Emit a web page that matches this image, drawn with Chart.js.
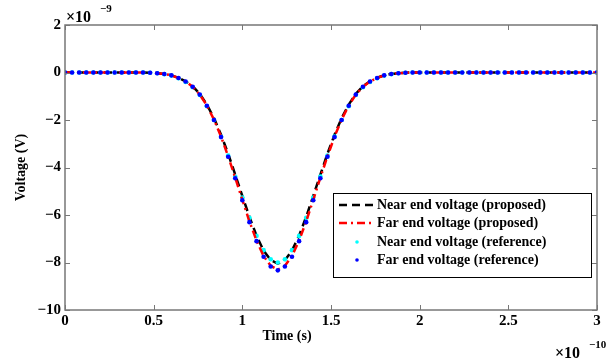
<!DOCTYPE html>
<html>
<head>
<meta charset="utf-8">
<script src="https://cdn.jsdelivr.net/npm/chart.js@4.4.1/dist/chart.umd.min.js"></script>
<style>
html,body{margin:0;padding:0;background:#fff;}
#wrap{width:616px;height:362px;position:relative;}
</style>
</head>
<body>
<div id="wrap"><canvas id="c" width="616" height="362"></canvas></div>
<script>
// Time axis in units of 1e-10 s, voltage in units of 1e-9 V
const timeExp = -10;
const voltExp = -9;
const xTicks = [0, 0.5, 1, 1.5, 2, 2.5, 3];
const yTicks = [2, 0, -2, -4, -6, -8, -10];
const seriesNames = [
  "Near end voltage (proposed)",
  "Far end voltage (proposed)",
  "Near end voltage (reference)",
  "Far end voltage (reference)"
];
const time = [0,0.04,0.08,0.12,0.16,0.20,0.24,0.28,0.32,0.36,0.40,0.44,0.48,0.52,0.56,0.60,0.64,0.68,0.72,0.76,0.80,0.84,0.88,0.92,0.96,1.00,1.04,1.08,1.12,1.16,1.20,1.24,1.28,1.32,1.36,1.40,1.44,1.48,1.52,1.56,1.60,1.64,1.68,1.72,1.76,1.80,1.84,1.88,1.92,1.96,2.00,2.04,2.08,2.12,2.16,2.20,2.24,2.28,2.32,2.36,2.40,2.44,2.48,2.52,2.56,2.60,2.64,2.68,2.72,2.76,2.80,2.84,2.88,2.92,2.96,3.00];
const nearProposed = [0,0,0,0,0,0,0,0,0,0,0,0,-0.01,-0.03,-0.06,-0.12,-0.22,-0.37,-0.58,-0.90,-1.35,-1.92,-2.62,-3.42,-4.30,-5.20,-6.08,-6.87,-7.50,-7.90,-8.05,-7.90,-7.50,-6.87,-6.08,-5.20,-4.30,-3.42,-2.62,-1.92,-1.35,-0.90,-0.58,-0.37,-0.22,-0.12,-0.06,-0.03,-0.01,0,0,0,0,0,0,0,0,0,0,0,0,0,0,0,0,0,0,0,0,0,0,0,0,0,0,0];
const farProposed = [0,0,0,0,0,0,0,0,0,0,0,0,-0.01,-0.03,-0.06,-0.12,-0.23,-0.38,-0.60,-0.93,-1.39,-1.98,-2.70,-3.53,-4.43,-5.36,-6.27,-7.08,-7.73,-8.14,-8.30,-8.14,-7.73,-7.08,-6.27,-5.36,-4.43,-3.53,-2.70,-1.98,-1.39,-0.93,-0.60,-0.38,-0.23,-0.12,-0.06,-0.03,-0.01,0,0,0,0,0,0,0,0,0,0,0,0,0,0,0,0,0,0,0,0,0,0,0,0,0,0,0];
const nearReference = [0,0,0,0,0,0,0,0,0,0,0,0,-0.01,-0.03,-0.07,-0.13,-0.24,-0.40,-0.62,-0.95,-1.42,-2.00,-2.70,-3.50,-4.38,-5.26,-6.12,-6.88,-7.48,-7.86,-8.00,-7.86,-7.48,-6.88,-6.12,-5.26,-4.38,-3.50,-2.70,-2.00,-1.42,-0.95,-0.62,-0.40,-0.24,-0.13,-0.07,-0.03,-0.01,0,0,0,0,0,0,0,0,0,0,0,0,0,0,0,0,0,0,0,0,0,0,0,0,0,0,0];
const farReference = [0,0,0,0,0,0,0,0,0,0,0,0,-0.01,-0.03,-0.06,-0.12,-0.23,-0.38,-0.60,-0.93,-1.40,-2.00,-2.72,-3.55,-4.45,-5.38,-6.30,-7.10,-7.76,-8.17,-8.33,-8.17,-7.76,-7.10,-6.30,-5.38,-4.45,-3.55,-2.72,-2.00,-1.40,-0.93,-0.60,-0.38,-0.23,-0.12,-0.06,-0.03,-0.01,0,0,0,0,0,0,0,0,0,0,0,0,0,0,0,0,0,0,0,0,0,0,0,0,0,0,0];

const pts = arr => time.map((t, i) => ({x: t, y: arr[i]}));
const SERIF = "'Liberation Serif', 'DejaVu Serif', serif";
const fmt = v => String(v).replace('-', '\u2212');

const frame = {
  id: 'frame',
  afterDatasetsDraw(chart) {
    const {ctx, chartArea: a, scales: {x, y}} = chart;
    ctx.save();
    ctx.strokeStyle = '#777';
    ctx.lineWidth = 1.5;
    ctx.strokeRect(a.left, a.top, a.right - a.left, a.bottom - a.top);
    ctx.lineWidth = 1;
    ctx.beginPath();
    xTicks.forEach(v => {
      const px = Math.round(x.getPixelForValue(v)) + 0.5;
      ctx.moveTo(px, a.bottom); ctx.lineTo(px, a.bottom - 5);
      ctx.moveTo(px, a.top); ctx.lineTo(px, a.top + 5);
    });
    yTicks.forEach(v => {
      const py = Math.round(y.getPixelForValue(v)) + 0.5;
      ctx.moveTo(a.left, py); ctx.lineTo(a.left + 5, py);
      ctx.moveTo(a.right, py); ctx.lineTo(a.right - 5, py);
    });
    ctx.stroke();
    ctx.restore();
  },
  afterDraw(chart) {
    const {ctx, chartArea: a} = chart;
    const ds = chart.data.datasets;
    ctx.save();
    // axis titles
    ctx.fillStyle = '#000';
    ctx.font = "bold 14px " + SERIF;
    ctx.textAlign = 'center';
    ctx.textBaseline = 'middle';
    ctx.fillText('Time (s)', 287, 336);
    ctx.save();
    ctx.translate(21, (a.top + a.bottom) / 2);
    ctx.rotate(-Math.PI / 2);
    ctx.fillText('Voltage (V)', 0, 0);
    ctx.restore();
    // exponent labels
    ctx.textAlign = 'left';
    ctx.textBaseline = 'alphabetic';
    ctx.font = "bold 16px " + SERIF;
    ctx.fillText('\u00d710', 66, 22);
    ctx.font = "bold 11px " + SERIF;
    ctx.fillText(fmt(voltExp), 100, 12);
    ctx.font = "bold 16px " + SERIF;
    ctx.fillText('\u00d710', 555, 358);
    ctx.font = "bold 11px " + SERIF;
    ctx.fillText(fmt(timeExp), 589, 348);
    // legend
    const L = 333, T = 193, W = 258, H = 84;
    ctx.fillStyle = '#fff';
    ctx.fillRect(L, T, W, H);
    ctx.strokeStyle = '#000';
    ctx.lineWidth = 1;
    ctx.strokeRect(L + 0.5, T + 0.5, W, H);
    const rows = [205, 223, 242, 260];
    ds.forEach((d, i) => {
      const yy = rows[i];
      if (d.showLine === false) {
        ctx.fillStyle = d.pointBackgroundColor;
        ctx.beginPath();
        ctx.arc(357, yy, 1.8, 0, Math.PI * 2);
        ctx.fill();
      } else {
        ctx.strokeStyle = d.borderColor;
        ctx.lineWidth = d.borderWidth;
        ctx.setLineDash(d.borderDash);
        ctx.beginPath();
        ctx.moveTo(339, yy); ctx.lineTo(375, yy);
        ctx.stroke();
        ctx.setLineDash([]);
      }
      ctx.fillStyle = '#000';
      ctx.font = "bold 14px " + SERIF;
      ctx.textBaseline = 'middle';
      ctx.fillText(d.label, 377, yy);
    });
    ctx.restore();
  }
};

new Chart(document.getElementById('c'), {
  type: 'line',
  data: {
    datasets: [
      {label: seriesNames[0], data: pts(nearProposed), borderColor: '#000', borderWidth: 2.5, borderDash: [8, 5], pointRadius: 0, fill: false, order: 4, tension: 0},
      {label: seriesNames[1], data: pts(farProposed), borderColor: '#ff0000', borderWidth: 2.5, borderDash: [8, 4, 2, 4], pointRadius: 0, fill: false, order: 2, tension: 0},
      {label: seriesNames[2], data: pts(nearReference), showLine: false, pointRadius: 2.3, pointBorderWidth: 0, pointBackgroundColor: '#00ffff', pointBorderColor: '#00ffff', order: 3},
      {label: seriesNames[3], data: pts(farReference), showLine: false, pointRadius: 2.3, pointBorderWidth: 0, pointBackgroundColor: '#0000ff', pointBorderColor: '#0000ff', order: 1}
    ]
  },
  options: {
    responsive: false,
    animation: false,
    devicePixelRatio: 1,
    layout: {padding: {top: 25, right: 19, left: 0, bottom: 0}},
    plugins: {legend: {display: false}, tooltip: {enabled: false}},
    scales: {
      x: {
        type: 'linear', min: 0, max: 3,
        afterBuildTicks: s => { s.ticks = xTicks.map(v => ({value: v})); },
        afterFit: s => { s.height = 52; },
        grid: {display: false, drawTicks: false},
        border: {display: false},
        ticks: {color: '#000', padding: 2, maxRotation: 0, font: {family: SERIF, size: 15, weight: 'bold'}, callback: v => fmt(v)}
      },
      y: {
        type: 'linear', min: -10, max: 2,
        afterBuildTicks: s => { s.ticks = yTicks.map(v => ({value: v})); },
        afterFit: s => { s.width = 65; },
        grid: {display: false, drawTicks: false},
        border: {display: false},
        ticks: {color: '#000', padding: 4, font: {family: SERIF, size: 15, weight: 'bold'}, callback: v => fmt(v)}
      }
    }
  },
  plugins: [frame]
});
</script>
</body>
</html>
